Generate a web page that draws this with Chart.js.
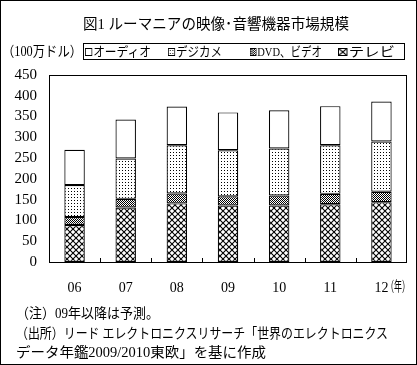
<!DOCTYPE html>
<html>
<head>
<meta charset="utf-8">
<script src="https://cdn.jsdelivr.net/npm/chart.js@4/dist/chart.umd.min.js"></script>
<style>
  body { margin:0; background:#fff; }
  #wrap { position:relative; width:417px; height:365px; box-sizing:border-box; border:1px solid #000; overflow:hidden;
          font-family:"Liberation Serif","Noto Sans CJK JP",serif; color:#000; }
  #chart { position:absolute; left:0; top:0; }
  .txt { position:absolute; white-space:nowrap; font-size:14px; line-height:16px; transform-origin:0 0; }
  #legend { position:absolute; left:82px; top:42px; width:322px; height:17px; box-sizing:border-box; border:1px solid #000; }
  #legend .it { position:absolute; top:0; display:flex; align-items:center; white-space:nowrap; font-size:13px; line-height:15px; transform-origin:0 0; }
  #legend canvas { border:1px solid #000; margin-right:1px; flex-shrink:0; }
</style>
</head>
<body>
<div id="wrap">
  <canvas id="chart" width="417" height="365"></canvas>
  <div class="txt" data-w="266" style="left:82px;top:15px;font-size:15px;">図1 ルーマニアの映像･音響機器市場規模</div>
  <div class="txt" data-w="80" style="left:1px;top:43px;">（100万ドル）</div>
  <div id="legend"></div>
  <div class="txt" data-w="24" style="left:385px;top:278px;">（年）</div>
  <div class="txt" data-w="143" style="left:15px;top:305px;">（注）09年以降は予測。</div>
  <div class="txt" data-w="372" style="left:15px;top:325px;">（出所）リード エレクトロニクスリサーチ「世界のエレクトロニクス</div>
  <div class="txt" data-w="250" style="left:15px;top:344px;">データ年鑑2009/2010東欧」を基に作成</div>
</div>
<script>
// 年 (ラベル)
const years = ['06','07','08','09','10','11','12'];
// 100万ドル
const tv      = [89, 131, 141, 136, 136, 139, 144];
const dvd     = [19, 21, 24, 22, 24, 25, 25];
const digicam = [77, 97, 116, 111, 113, 117, 121];
const audio   = [85, 94, 93, 91, 92, 94, 96];

// パターン
function makePattern(kind){
  const c = document.createElement('canvas');
  const s = kind==='cross' ? 6 : (kind==='dense' ? 2 : 3);
  c.width = s; c.height = s;
  const g = c.getContext('2d');
  g.fillStyle = '#fff'; g.fillRect(0,0,s,s);
  g.fillStyle = '#000';
  if(kind==='cross'){
    g.strokeStyle='#000'; g.lineWidth=1.1;
    g.beginPath();
    g.moveTo(-1,-1); g.lineTo(s+1,s+1);
    g.moveTo(s+1,-1); g.lineTo(-1,s+1);
    g.stroke();
  } else if(kind==='dense'){
    g.fillRect(0,0,1,1);
    g.fillRect(1,1,1,1);
  } else if(kind==='sparse'){
    g.fillRect(1,1,1,1);
  }
  return g.createPattern(c,'repeat');
}

const ctx = document.getElementById('chart').getContext('2d');
const datasets = [
  {label:'テレビ', data:tv, kind:'cross'},
  {label:'DVD、ビデオ', data:dvd, kind:'dense'},
  {label:'デジカメ', data:digicam, kind:'sparse'},
  {label:'オーディオ', data:audio, kind:'white'}
].map(d=>({label:d.label, data:d.data, kind:d.kind,
  backgroundColor: d.kind==='white' ? '#fff' : makePattern(d.kind),
  borderColor:'#000', borderWidth:1.2, borderSkipped:false}));

// 枠と目盛り
const frame = {
  id:'frame',
  afterDraw(chart){
    const a = chart.chartArea, c = chart.ctx, xs = chart.scales.x;
    c.save();
    c.strokeStyle='#000'; c.lineWidth=1;
    c.strokeRect(Math.round(a.left)+0.5, Math.round(a.top)+0.5, Math.round(a.width)-1, Math.round(a.bottom-a.top));
    c.beginPath();
    for(let i=1;i<years.length;i++){
      const x = Math.round((xs.getPixelForValue(i-1)+xs.getPixelForValue(i))/2)+0.5;
      c.moveTo(x, a.bottom); c.lineTo(x, a.bottom-4);
    }
    c.stroke();
    c.restore();
  }
};

const chart = new Chart(ctx,{
  type:'bar',
  data:{labels:years, datasets:datasets},
  options:{
    responsive:false, animation:false,
    layout:{padding:{top:74, right:11, bottom:74, left:0}},
    plugins:{legend:{display:false}, tooltip:{enabled:false}},
    datasets:{bar:{categoryPercentage:1, barPercentage:0.4}},
    scales:{
      x:{stacked:true,
         grid:{display:false, drawTicks:false},
         border:{display:false},
         ticks:{color:'#000', padding:18, font:{family:'Liberation Serif', size:14}},
         afterFit(s){ s.height = 30; }},
      y:{stacked:true, min:0, max:450,
         grid:{display:false, drawTicks:false},
         border:{display:false},
         ticks:{stepSize:50, autoSkip:false, color:'#000', padding:12, font:{family:'Liberation Serif', size:15}},
         afterFit(s){ s.width = 48; }}
    }
  },
  plugins:[frame]
});

// 凡例 (x位置と幅は参照画像から)
const legX = [1, 84, 166, 254];
const legW = [66, 54, 72, 57];
const leg = document.getElementById('legend');
chart.data.datasets.slice().reverse().forEach((ds,i)=>{
  const it = document.createElement('div'); it.className='it';
  it.style.left = legX[i]+'px';
  const sw = document.createElement('canvas'); sw.width=6; sw.height=6;
  const g = sw.getContext('2d');
  g.fillStyle = ds.kind==='white' ? '#fff' : makePattern(ds.kind);
  g.fillRect(0,0,6,6);
  it.appendChild(sw);
  const sp = document.createElement('span'); sp.textContent = ds.label;
  it.appendChild(sp);
  leg.appendChild(it);
  it.dataset.w = legW[i];
});

// 幅合わせ
document.querySelectorAll('[data-w]').forEach(el=>{
  const w = el.getBoundingClientRect().width;
  el.style.transform = 'scaleX(' + (el.dataset.w / w) + ')';
});
</script>
</body>
</html>
